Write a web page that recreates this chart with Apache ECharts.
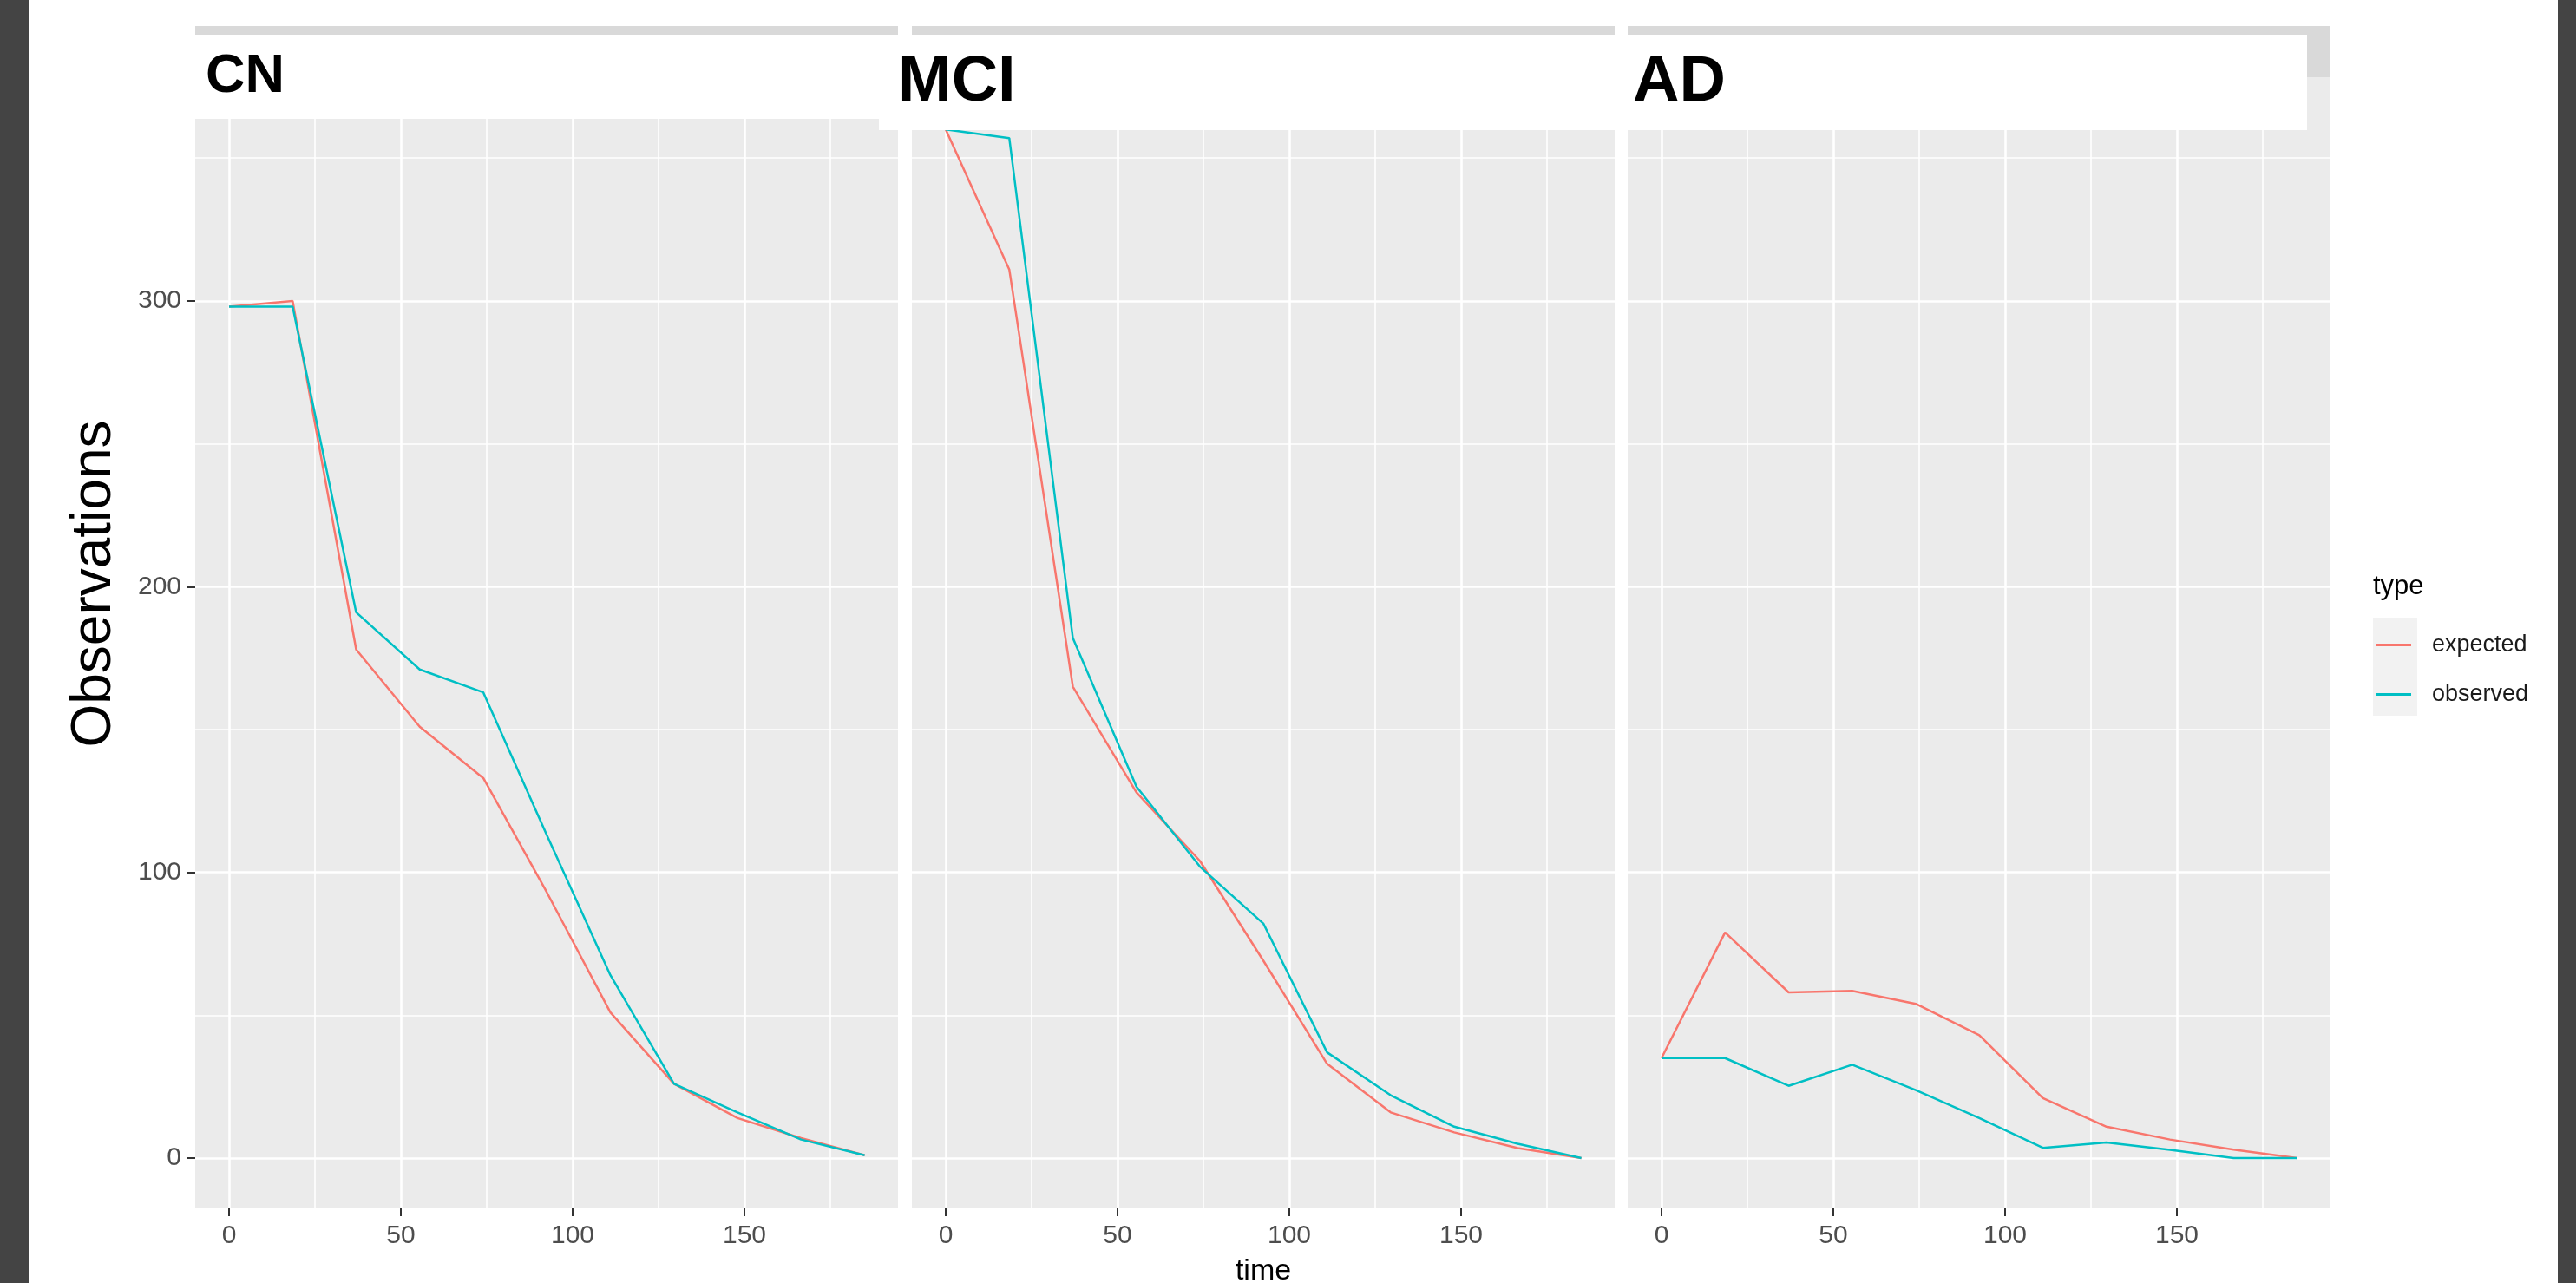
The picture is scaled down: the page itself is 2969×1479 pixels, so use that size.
<!DOCTYPE html>
<html>
<head>
<meta charset="utf-8">
<title>Observations by time</title>
<script src="https://cdn.jsdelivr.net/npm/echarts@6/dist/echarts.min.js"></script>
<style>
  html, body { margin: 0; padding: 0; background: #ffffff; }
  #main { width: 2969px; height: 1479px; }
</style>
</head>
<body>
<div id="main"></div>
<script>
// 时间点
var time = [0, 18.5, 37, 55.5, 74, 92.5, 111, 129.5, 148, 166.5, 185];
// CN
var cnExpected = [298, 300, 178, 151, 133, 93, 51, 26, 14, 7, 1];
var cnObserved = [298, 298, 191, 171, 163, 113, 64, 26, 16, 6.5, 1];
// MCI
var mciExpected = [360, 311, 165, 128, 104, 69, 33, 16, 9, 3.5, 0];
var mciObserved = [360, 357, 182, 130, 102, 82, 37, 22, 11, 5, 0];
// AD
var adExpected = [35, 79, 58, 58.5, 54, 43, 21, 11, 6.5, 3, 0];
var adObserved = [35, 35, 25.3, 32.7, 23.8, 14, 3.6, 5.5, 2.9, 0, 0];

var panelNames = ["CN", "MCI", "AD"];
var seriesNames = ["expected", "observed"];
var xTicks = [0, 50, 100, 150];
var xMinorTicks = [25, 75, 125, 175];
var yTicks = [0, 100, 200, 300];
var yMinorTicks = [50, 150, 250, 350];

function chart() {
  var myChart = echarts.init(document.getElementById("main"), null, { renderer: "canvas" });

  var panelData = [
    [cnExpected, cnObserved],
    [mciExpected, mciObserved],
    [adExpected, adObserved]
  ];
  var panelLeft = [225, 1051, 1876];
  var panelTop = 89;
  var panelWidth = 810;
  var panelHeight = 1304;
  var xMin = -9.85, xMax = 194.7;
  var yMin = -17.6, yMax = 378.3;
  var fontFamily = '"Liberation Sans", Arial, sans-serif';

  function pairs(ys) {
    var out = [];
    for (var i = 0; i < time.length; i++) {
      out.push([time[i], ys[i]]);
    }
    return out;
  }

  var grid = [], xAxis = [], yAxis = [], series = [];
  for (var k = 0; k < 3; k++) {
    grid.push({
      left: panelLeft[k],
      top: panelTop,
      width: panelWidth,
      height: panelHeight,
      show: true,
      backgroundColor: "#EBEBEB",
      borderWidth: 0,
      containLabel: false
    });
    // 主刻度
    xAxis.push({
      type: "value",
      gridIndex: k,
      position: "bottom",
      min: xMin,
      max: xMax,
      axisLine: { show: false, onZero: false },
      axisTick: {
        show: true,
        length: 9,
        customValues: xTicks,
        lineStyle: { color: "#333333", width: 2 }
      },
      axisLabel: {
        customValues: xTicks,
        margin: 17,
        fontSize: 30,
        fontFamily: fontFamily,
        color: "#4D4D4D"
      },
      splitLine: { show: true, lineStyle: { color: "#FFFFFF", width: 2.6 } }
    });
    // 次网格线
    xAxis.push({
      type: "value",
      gridIndex: k,
      position: "bottom",
      min: xMin,
      max: xMax,
      axisLine: { show: false, onZero: false },
      axisTick: { show: false, customValues: xMinorTicks },
      axisLabel: { show: false },
      splitLine: { show: true, lineStyle: { color: "#FFFFFF", width: 1.6 } }
    });
    yAxis.push({
      type: "value",
      gridIndex: k,
      position: "left",
      min: yMin,
      max: yMax,
      axisLine: { show: false, onZero: false },
      axisTick: {
        show: k === 0,
        length: 9,
        customValues: yTicks,
        lineStyle: { color: "#333333", width: 2 }
      },
      axisLabel: {
        show: k === 0,
        customValues: yTicks,
        margin: 16,
        fontSize: 30,
        fontFamily: fontFamily,
        color: "#4D4D4D"
      },
      splitLine: { show: true, lineStyle: { color: "#FFFFFF", width: 2.6 } }
    });
    yAxis.push({
      type: "value",
      gridIndex: k,
      position: "left",
      min: yMin,
      max: yMax,
      axisLine: { show: false, onZero: false },
      axisTick: { show: false, customValues: yMinorTicks },
      axisLabel: { show: false },
      splitLine: { show: true, lineStyle: { color: "#FFFFFF", width: 1.6 } }
    });
    for (var s = 0; s < 2; s++) {
      series.push({
        name: seriesNames[s],
        type: "line",
        xAxisIndex: 2 * k,
        yAxisIndex: 2 * k,
        symbol: "none",
        showSymbol: false,
        smooth: false,
        lineStyle: { width: 2.5 },
        data: pairs(panelData[k][s])
      });
    }
  }

  var graphics = [
    { type: "rect", shape: { x: 0, y: 0, width: 33, height: 1479 }, style: { fill: "#444444" }, z: 100 },
    { type: "rect", shape: { x: 2948, y: 0, width: 21, height: 1479 }, style: { fill: "#444444" }, z: 100 },
    // 图例键背景
    { type: "rect", shape: { x: 2735, y: 712, width: 51, height: 113 }, style: { fill: "#F2F2F2" }, z: 1 }
  ];
  // 分面标题条
  for (var j = 0; j < 3; j++) {
    graphics.push({
      type: "rect",
      shape: { x: panelLeft[j], y: 30, width: panelWidth, height: 59 },
      style: { fill: "#D9D9D9" },
      z: 90
    });
  }
  // 白色标签框
  var boxes = [[215, 40, 799, 97], [1013, 40, 857, 110], [1870, 40, 789, 110]];
  var labelPos = [[237, 89, 63], [1035, 96, 74], [1882, 96, 74]];
  for (var b = 0; b < 3; b++) {
    graphics.push({
      type: "rect",
      shape: { x: boxes[b][0], y: boxes[b][1], width: boxes[b][2], height: boxes[b][3] },
      style: { fill: "#FFFFFF" },
      z: 95
    });
    graphics.push({
      type: "text",
      x: labelPos[b][0],
      y: labelPos[b][1],
      z: 100,
      style: {
        text: panelNames[b],
        fontSize: labelPos[b][2],
        fontWeight: "bold",
        fontFamily: fontFamily,
        fill: "#000000",
        align: "left",
        verticalAlign: "middle"
      }
    });
  }
  // 坐标轴标题
  graphics.push({
    type: "text",
    x: 109,
    y: 673,
    rotation: Math.PI / 2,
    z: 100,
    style: {
      text: "Observations",
      fontSize: 64,
      fontFamily: fontFamily,
      fill: "#000000",
      align: "center",
      verticalAlign: "middle"
    }
  });
  graphics.push({
    type: "text",
    x: 1456,
    y: 1466,
    z: 100,
    style: {
      text: "time",
      fontSize: 34,
      fontFamily: fontFamily,
      fill: "#000000",
      align: "center",
      verticalAlign: "middle"
    }
  });
  graphics.push({
    type: "text",
    x: 2735,
    y: 676,
    z: 100,
    style: {
      text: "type",
      fontSize: 31,
      fontFamily: fontFamily,
      fill: "#000000",
      align: "left",
      verticalAlign: "middle"
    }
  });

  var option = {
    animation: false,
    backgroundColor: "#FFFFFF",
    color: ["#F8766D", "#00BFC4"],
    legend: {
      orient: "vertical",
      left: 2739,
      top: 730,
      padding: 0,
      icon: "rect",
      itemWidth: 40,
      itemHeight: 3,
      itemGap: 30,
      data: seriesNames,
      textStyle: {
        fontSize: 27,
        fontFamily: fontFamily,
        color: "#1A1A1A",
        padding: [0, 0, 0, 19]
      }
    },
    grid: grid,
    xAxis: xAxis,
    yAxis: yAxis,
    series: series,
    graphic: graphics
  };

  myChart.setOption(option);
}
chart();
</script>
</body>
</html>
